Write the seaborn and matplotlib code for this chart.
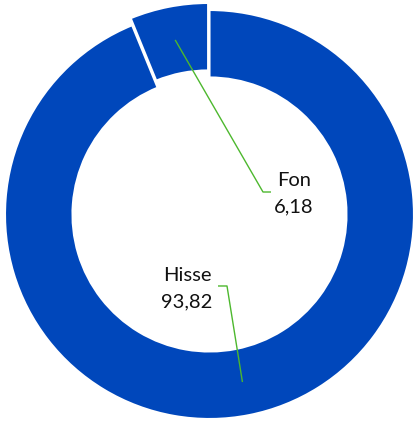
import numpy as np
import matplotlib
matplotlib.use("Agg")
import matplotlib.pyplot as plt
import seaborn as sns

# data
labels = ["Fon", "Hisse"]
values = [6.18, 93.82]
value_text = ["6,18", "93,82"]

blue = "#0047BB"
green = "#4DB82E"

sns.set_theme(style="white")
plt.rcParams["font.family"] = ["Lato", "DejaVu Sans"]

fig = plt.figure(figsize=(4.14, 4.23), dpi=100)
ax = fig.add_axes([0, 0, 1, 1])

explode = [0.035, 0]
wedges, _ = ax.pie(values, startangle=90, counterclock=True, explode=explode,
                   colors=[blue, blue],
                   wedgeprops=dict(width=0.33, edgecolor="white", linewidth=1.5))

ax.set_xlim(-1.0244, 1.0)
ax.set_ylim(-1.0196, 1.0489)
ax.set_aspect("equal")
ax.axis("off")

# label positions (text centre) and leader elbows / ends
text_pos = [(0.413, 0.100), (-0.110, -0.364)]
elbows = [(0.2616, 0.110), (0.0856, -0.3496)]
ends = [(0.3007, 0.110), (0.0416, -0.3496)]

for i, w in enumerate(wedges):
    mid = np.deg2rad((w.theta1 + w.theta2) / 2)
    r = 1 - 0.33 / 2 + explode[i]
    sx, sy = r * np.cos(mid), r * np.sin(mid)
    ex, ey = elbows[i]
    tx, ty = ends[i]
    ax.plot([sx, ex, tx], [sy, ey, ty], color=green, lw=1.0,
            solid_capstyle="butt", zorder=3)
    ax.text(text_pos[i][0], text_pos[i][1], f"{labels[i]}\n{value_text[i]}",
            ha="center", va="center", fontsize=14.5, color="#111111",
            linespacing=1.65, zorder=4)

plt.savefig("out.png", dpi=100)
plt.close()
